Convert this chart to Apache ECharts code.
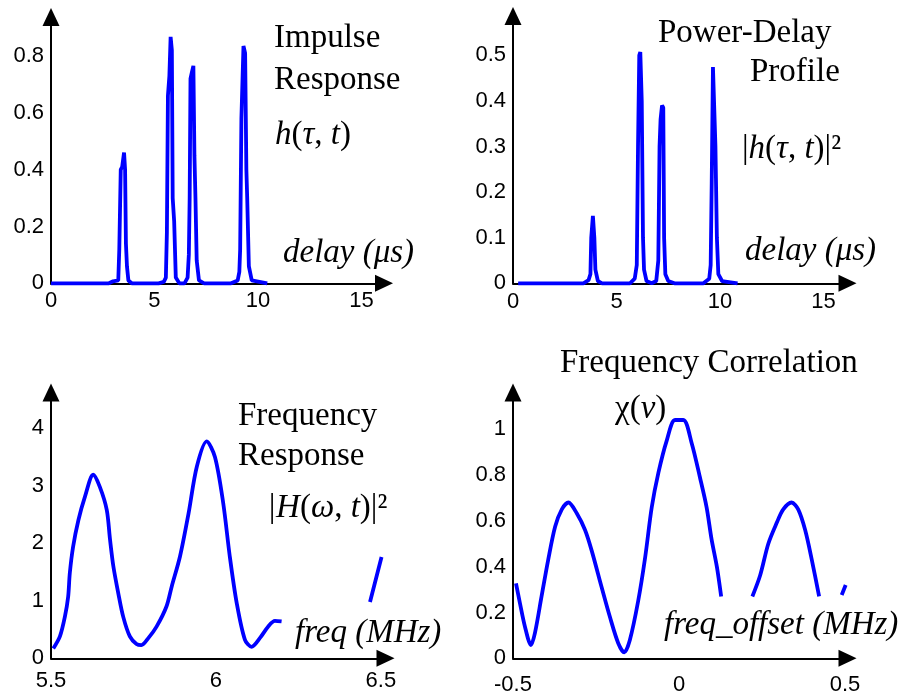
<!DOCTYPE html>
<html><head><meta charset="utf-8">
<script src="https://cdn.jsdelivr.net/npm/echarts@6/dist/echarts.min.js"></script>
<style>html,body{margin:0;padding:0;background:#fff}#c{width:910px;height:697px}</style>
</head><body><div id="c"></div>
<script>
// ---- Impulse response h(tau,t) ----
const impulseDelay = [0, 2.8, 3.0, 3.25, 3.3, 3.37, 3.44, 3.53, 3.58, 3.62, 3.67, 3.74, 3.9,
  5.2, 5.45, 5.55, 5.6, 5.65, 5.72, 5.78, 5.84, 5.88, 5.95, 6.03, 6.2,
  6.45, 6.6, 6.66, 6.7, 6.74, 6.8, 6.88, 6.93, 6.98, 7.04, 7.15, 7.4,
  8.7, 9.02, 9.1, 9.14, 9.2, 9.3, 9.38, 9.44, 9.48, 9.56, 9.7, 10.45];
const impulseAmp = [0, 0, 0.007, 0.01, 0.12, 0.4, 0.41, 0.46, 0.4, 0.14, 0.06, 0.01, 0,
  0, 0.005, 0.02, 0.18, 0.66, 0.73, 0.867, 0.82, 0.3, 0.22, 0.02, 0,
  0, 0.02, 0.1, 0.3, 0.72, 0.74, 0.765, 0.45, 0.3, 0.08, 0.01, 0,
  0, 0.01, 0.04, 0.12, 0.58, 0.835, 0.81, 0.4, 0.3, 0.06, 0.01, 0];

// ---- Power-delay profile |h|^2 ----
const pdpDelay = [0.25, 3.4, 3.65, 3.74, 3.78, 3.86, 3.93, 3.98, 4.1, 4.3,
  5.65, 5.88, 5.98, 6.04, 6.1, 6.15, 6.22, 6.28, 6.33, 6.45, 6.7,
  6.92, 7.02, 7.08, 7.13, 7.2, 7.26, 7.3, 7.36, 7.5, 7.8,
  9.2, 9.48, 9.55, 9.6, 9.66, 9.72, 9.78, 9.85, 9.92, 10.1, 10.85];
const pdpPower = [0, 0, 0.007, 0.02, 0.1, 0.148, 0.1, 0.03, 0.005, 0,
  0, 0.01, 0.04, 0.3, 0.5, 0.507, 0.4, 0.1, 0.03, 0.005, 0,
  0.005, 0.05, 0.3, 0.36, 0.39, 0.385, 0.1, 0.02, 0.005, 0,
  0, 0.01, 0.04, 0.22, 0.474, 0.47, 0.3, 0.1, 0.02, 0.005, 0];

// ---- Frequency response |H|^2 ----
const freqMHz = [5.507, 5.527, 5.542, 5.552, 5.557, 5.567, 5.583, 5.603, 5.628, 5.648, 5.669, 5.679,
  5.689, 5.704, 5.719, 5.739, 5.759, 5.774, 5.795, 5.82, 5.85, 5.866, 5.891, 5.917, 5.942, 5.972,
  5.997, 6.022, 6.042, 6.063, 6.088, 6.108, 6.133, 6.158, 6.179, 6.199, 6.3, 6.467, 6.502];
const freqRespMag = [0.17, 0.38, 0.72, 1.07, 1.48, 1.94, 2.4, 2.81, 3.19, 2.98, 2.58, 2.06,
  1.6, 1.13, 0.72, 0.38, 0.25, 0.23, 0.35, 0.55, 0.9, 1.25, 1.77, 2.52, 3.33, 3.77,
  3.5, 2.7, 1.77, 0.96, 0.32, 0.2, 0.35, 0.55, 0.65, 0.64, null, 0.98, 1.76];

// ---- Frequency correlation chi(nu) ----
const freqOffset = [-0.491, -0.479, -0.464, -0.446, -0.434, -0.414, -0.394, -0.373, -0.353, -0.333,
  -0.308, -0.283, -0.263, -0.233, -0.208, -0.183, -0.165, -0.148, -0.123, -0.102, -0.082, -0.062,
  -0.037, -0.012, 0.013, 0.038, 0.063, 0.083, 0.098, 0.114, 0.127, 0.17,
  0.221, 0.244, 0.269, 0.294, 0.314, 0.339, 0.359, 0.38, 0.4, 0.422, 0.46, 0.49, 0.502];
const freqCorr = [0.327, 0.24, 0.138, 0.058, 0.11, 0.27, 0.43, 0.575, 0.65, 0.68,
  0.633, 0.56, 0.47, 0.31, 0.18, 0.066, 0.026, 0.08, 0.25, 0.44, 0.66, 0.81,
  0.95, 1.04, 1.04, 0.94, 0.79, 0.66, 0.52, 0.4, 0.27, null,
  0.27, 0.36, 0.5, 0.59, 0.65, 0.68, 0.65, 0.56, 0.43, 0.27, null, 0.276, 0.32];

// ---- tick labels ----
const delayTicks = [0, 5, 10, 15];
const impulseTicks = [0, 0.2, 0.4, 0.6, 0.8];
const pdpTicks = [0, 0.1, 0.2, 0.3, 0.4, 0.5];
const freqTicks = [5.5, 6, 6.5];
const freqRespTicks = [0, 1, 2, 3, 4];
const offsetTicks = [-0.5, 0, 0.5];
const corrTicks = [0, 0.2, 0.4, 0.6, 0.8, 1];

function pairs(xs, ys) { return xs.map((x, i) => [x, ys[i] === null ? '-' : ys[i]]); }

const SANS = '"Liberation Sans", Arial, sans-serif';
const SERIF = '"Liberation Serif", "Times New Roman", serif';

function axis(gi, min, max, ticks, margin) {
  return {
    type: 'value', gridIndex: gi, min: min, max: max,
    axisLine: { show: true, onZero: false, symbol: ['none', 'triangle'], symbolSize: [17, 18],
      lineStyle: { color: '#000', width: 2 } },
    axisTick: { show: false },
    splitLine: { show: false },
    axisLabel: { customValues: ticks, margin: margin, color: '#000', fontSize: 22, fontFamily: SANS }
  };
}

function line(gi, data, smooth) {
  return { type: 'line', xAxisIndex: gi, yAxisIndex: gi, data: data, showSymbol: false, symbol: 'none',
    smooth: smooth, clip: false, connectNulls: false,
    lineStyle: { color: '#0000ff', width: 3.8 }, itemStyle: { color: '#0000ff' } };
}

const FS = 33;
const rich = {
  i: { fontStyle: 'italic', fontSize: FS, fontFamily: SERIF, fill: '#000' },
  n: { fontSize: FS, fontFamily: SERIF, fill: '#000' }
};
function txt(x, y, text, italic) {
  return { type: 'text', x: x, y: y, z: 100,
    style: { text: text, fill: '#000', verticalAlign: 'middle', align: 'left',
      font: (italic ? 'italic ' : '') + FS + 'px ' + SERIF } };
}
function rtxt(x, y, text) {
  return { type: 'text', x: x, y: y, z: 100,
    style: { text: text, rich: rich, fill: '#000', verticalAlign: 'middle', align: 'left',
      font: FS + 'px ' + SERIF } };
}

const chart = echarts.init(document.getElementById('c'), null, { renderer: 'canvas' });
chart.setOption({
  backgroundColor: '#fff',
  animation: false,
  grid: [
    { left: 51, top: 17, width: 333, height: 266.3 },
    { left: 513, top: 16, width: 334.5, height: 267.3 },
    { left: 51, top: 392.5, width: 334.5, height: 265.8 },
    { left: 513, top: 392.5, width: 334.5, height: 265.8 }
  ],
  xAxis: [
    axis(0, 0, 16.09, delayTicks, 7),
    axis(1, 0, 16.16, delayTicks, 8),
    axis(2, 5.5, 6.514, freqTicks, 12),
    axis(3, -0.5, 0.5075, offsetTicks, 16)
  ],
  yAxis: [
    axis(0, 0, 0.937, impulseTicks, 7),
    axis(1, 0, 0.586, pdpTicks, 7),
    axis(2, 0, 4.62, freqRespTicks, 7),
    axis(3, 0, 1.16, corrTicks, 7)
  ],
  series: [
    line(0, pairs(impulseDelay, impulseAmp), false),
    line(1, pairs(pdpDelay, pdpPower), false),
    line(2, pairs(freqMHz, freqRespMag), 0.3),
    line(3, pairs(freqOffset, freqCorr), 0.3)
  ],
  graphic: { elements: [
    txt(274, 38.5, 'Impulse'),
    txt(274, 80.5, 'Response'),
    rtxt(275, 135, '{i|h}{n|(}{i|τ}{n|, }{i|t}{n|)}'),
    txt(283, 253.5, 'delay (μs)', true),
    txt(658, 33, 'Power-Delay'),
    txt(750, 72, 'Profile'),
    rtxt(742, 149.5, '{n||}{i|h}{n|(}{i|τ}{n|, }{i|t}{n|)|²}'),
    txt(745, 251, 'delay (μs)', true),
    txt(238, 416, 'Frequency'),
    txt(238, 456, 'Response'),
    rtxt(267, 508, '{i||H}{n|(}{i|ω}{n|, }{i|t}{n|)|²}'),
    txt(295, 633, 'freq (MHz)', true),
    txt(560, 363, 'Frequency Correlation'),
    rtxt(615, 409.5, '{n|χ(}{i|ν}{n|)}'),
    txt(664, 625.5, 'freq_offset (MHz)', true)
  ] }
});
</script>
</body></html>
